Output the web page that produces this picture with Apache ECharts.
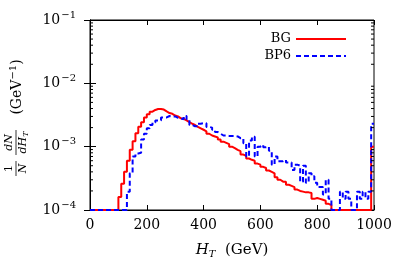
<!DOCTYPE html>
<html><head><meta charset="utf-8">
<script src="https://cdn.jsdelivr.net/npm/echarts@6/dist/echarts.min.js"></script>
<style>html,body{margin:0;padding:0;background:#fff}#c{width:407px;height:264px}</style>
</head><body><div id="c"></div>
<script>
// Bin lower edges (GeV), 10 GeV bins
const binStarts = [0,10,20,30,40,50,60,70,80,90,100,110,120,130,140,150,160,170,180,190,
200,210,220,230,240,250,260,270,280,290,300,310,320,330,340,350,360,370,380,390,
400,410,420,430,440,450,460,470,480,490,500,510,520,530,540,550,560,570,580,590,
600,610,620,630,640,650,660,670,680,690,700,710,720,730,740,750,760,770,780,790,
800,810,820,830,840,850,860,870,880,890,900,910,920,930,940,950,960,970,980,990];
const binEnd = 1000;
// BG (red) 1/N dN/dH_T per bin
const bgValues = [1e-4,1e-4,1e-4,1e-4,1e-4,1e-4,1e-4,1e-4,1e-4,1e-4,
1.6e-4,2.6e-4,4.0e-4,6.0e-4,8.9e-4,1.22e-3,1.63e-3,2.07e-3,2.43e-3,2.88e-3,
3.25e-3,3.57e-3,3.8e-3,3.94e-3,3.94e-3,3.85e-3,3.6e-3,3.4e-3,3.3e-3,3.1e-3,
3.0e-3,2.8e-3,2.75e-3,2.6e-3,2.45e-3,2.3e-3,2.2e-3,2.05e-3,1.95e-3,1.85e-3,
1.75e-3,1.6e-3,1.5e-3,1.45e-3,1.4e-3,1.3e-3,1.2e-3,1.15e-3,1.1e-3,1.0e-3,
9.5e-4,8.9e-4,8.5e-4,7.5e-4,7.2e-4,6.5e-4,6.2e-4,6.0e-4,5.4e-4,5.2e-4,
4.8e-4,4.6e-4,4.2e-4,4.0e-4,3.8e-4,3.3e-4,3.0e-4,2.8e-4,2.8e-4,2.5e-4,
2.4e-4,2.3e-4,2.1e-4,2.0e-4,1.95e-4,1.9e-4,1.9e-4,1.85e-4,1.5e-4,1.55e-4,
1.5e-4,1.45e-4,1.4e-4,1.25e-4,1.2e-4,1e-4,1e-4,1e-4,1e-4,1e-4,
1e-4,1e-4,1e-4,1e-4,1e-4,1e-4,1e-4,1e-4,1e-4,1.0e-3];
// BP6 (blue) per bin
const bp6Values = [1e-4,1e-4,1e-4,1e-4,1e-4,1e-4,1e-4,1e-4,1e-4,1e-4,
1e-4,1e-4,1e-4,1.95e-4,3.8e-4,7e-4,7.8e-4,8e-4,1.3e-3,1.6e-3,
1.95e-3,2.2e-3,2.4e-3,2.6e-3,2.6e-3,2.9e-3,2.9e-3,3.05e-3,3.0e-3,3.0e-3,
2.85e-3,2.8e-3,2.7e-3,3.05e-3,2.7e-3,2.2e-3,2.1e-3,2.1e-3,2.3e-3,2.35e-3,
2.35e-3,2.05e-3,2.0e-3,1.85e-3,1.7e-3,1.6e-3,1.5e-3,1.5e-3,1.48e-3,1.48e-3,
1.48e-3,1.45e-3,1.36e-3,1.36e-3,1.13e-3,7e-4,1.25e-3,1.44e-3,7e-4,1.0e-3,
1.07e-3,9.8e-4,1.0e-3,8.6e-4,5.2e-4,7e-4,5.9e-4,5.9e-4,6.2e-4,5.6e-4,
5.6e-4,4.3e-4,5.2e-4,5.0e-4,2.8e-4,5e-4,2.7e-4,3.8e-4,3.4e-4,2.7e-4,
2.3e-4,2.3e-4,1.75e-4,3e-4,1.5e-4,1e-4,1e-4,1e-4,1.95e-4,1.5e-4,
1.95e-4,1.5e-4,1e-4,1e-4,1.95e-4,1.5e-4,1.95e-4,1.5e-4,1.95e-4,2.3e-3];
const xTicks = [0,200,400,600,800,1000];
const yMin = 1e-4, yMax = 1e-1;
const minorTickValues = [2e-4,3e-4,4e-4,5e-4,6e-4,7e-4,8e-4,9e-4,
2e-3,3e-3,4e-3,5e-3,6e-3,7e-3,8e-3,9e-3,
2e-2,3e-2,4e-2,5e-2,6e-2,7e-2,8e-2,9e-2];

function histPoints(vals){
  const pts = binStarts.map((b,i)=>[b, vals[i]]);
  pts.push([binEnd, vals[vals.length-1]]);
  return pts;
}
const FONT = 'DejaVu Serif';
const chart = echarts.init(document.getElementById('c'), null, {renderer:'canvas'});
const supLabel = v => {
  const e = Math.round(Math.log10(v));
  return '{b|10}{s|\u2212' + Math.abs(e) + '}';
};
const legendCommon = {orient:'vertical',align:'right',right:55,itemWidth:50,itemHeight:14,itemGap:3,
  itemStyle:{color:'rgba(0,0,0,0)',borderWidth:0,opacity:0},
  textStyle:{fontFamily:FONT,fontSize:13,color:'#000'}};
chart.setOption({
  animation:false,
  backgroundColor:'#fff',
  grid:{left:90,right:33,top:20,bottom:54,show:true,borderColor:'#000',borderWidth:1,backgroundColor:'transparent'},
  legend:[
    Object.assign({data:['BG'],top:27.5}, legendCommon),
    Object.assign({data:['BP6'],top:44.5}, legendCommon)
  ],
  xAxis:[
    {type:'value',position:'bottom',min:0,max:1000,interval:200,
     axisLine:{show:true,lineStyle:{color:'#000',width:1}},
     axisTick:{show:true,inside:true,length:5,lineStyle:{color:'#000'}},
     splitLine:{show:false},
     axisLabel:{fontFamily:FONT,fontSize:14,color:'#000',margin:8,
       formatter:v=> xTicks.indexOf(v)>=0 ? String(v) : ''},
     name:'{i|H}{sub|T}{r|  (GeV)}',nameLocation:'middle',nameGap:31,
     nameTextStyle:{rich:{
       i:{fontFamily:FONT,fontStyle:'italic',fontSize:15,color:'#000'},
       sub:{fontFamily:FONT,fontStyle:'italic',fontSize:10,color:'#000',verticalAlign:'bottom',padding:[8,0,0,0]},
       r:{fontFamily:FONT,fontSize:15,color:'#000'}}}},
    {type:'value',position:'top',min:0,max:1000,interval:200,
     axisLine:{show:true,lineStyle:{color:'#000'}},
     axisTick:{show:true,inside:true,length:5,lineStyle:{color:'#000'}},
     axisLabel:{show:false},splitLine:{show:false}}
  ],
  yAxis:[
    {type:'log',logBase:10,min:yMin,max:yMax,position:'left',
     axisLine:{show:true,lineStyle:{color:'#000'}},
     axisTick:{show:true,inside:true,length:6,lineStyle:{color:'#000'}},
     splitLine:{show:false},
     axisLabel:{margin:14,formatter:supLabel,rich:{
       b:{fontFamily:FONT,fontSize:14,color:'#000'},
       s:{fontFamily:FONT,fontSize:10,color:'#000',verticalAlign:'top',padding:[0,0,10,1]}}}},
    {type:'log',logBase:10,min:yMin,max:yMax,position:'right',
     axisLine:{show:true,lineStyle:{color:'#000'}},
     axisTick:{show:true,inside:true,length:6,lineStyle:{color:'#000'}},
     axisLabel:{show:false},splitLine:{show:false}}
  ],
  series:[
    {name:'BG',type:'line',step:'end',symbol:'none',data:histPoints(bgValues),
     lineStyle:{color:'#ff0000',width:2},itemStyle:{color:'#ff0000'},z:3},
    {name:'BP6',type:'line',step:'end',symbol:'none',data:histPoints(bp6Values),
     lineStyle:{color:'#0000ff',width:2,type:[5,3]},itemStyle:{color:'#0000ff'},z:4},
    {name:'minor',type:'custom',silent:true,clip:false,z:5,
     data:minorTickValues.map(v=>[0,v]),
     renderItem:function(params,api){
       const cs = params.coordSys;
       const y = api.coord([0, api.value(1)])[1];
       const st = {stroke:'#000',lineWidth:1};
       return {type:'group',children:[
         {type:'line',shape:{x1:cs.x,y1:y,x2:cs.x+3,y2:y},style:st},
         {type:'line',shape:{x1:cs.x+cs.width-3,y1:y,x2:cs.x+cs.width,y2:y},style:st}
       ]};
     }}
  ],
  graphic:[
    {type:'text',x:9,y:168.5,rotation:Math.PI/2,style:{text:'1',fontFamily:FONT,fontSize:11,fill:'#000',align:'center',verticalAlign:'middle'}},
    {type:'line',shape:{x1:16,y1:161,x2:16,y2:176},style:{stroke:'#000',lineWidth:0.8}},
    {type:'text',x:23,y:168.5,rotation:Math.PI/2,style:{text:'N',fontFamily:FONT,fontStyle:'italic',fontSize:11,fill:'#000',align:'center',verticalAlign:'middle'}},
    {type:'text',x:9,y:142.5,rotation:Math.PI/2,style:{text:'dN',fontFamily:FONT,fontStyle:'italic',fontSize:11,fill:'#000',align:'center',verticalAlign:'middle'}},
    {type:'line',shape:{x1:16,y1:130,x2:16,y2:155},style:{stroke:'#000',lineWidth:0.8}},
    {type:'text',x:23,y:142.5,rotation:Math.PI/2,style:{text:'{i|dH}{s|T}',align:'center',verticalAlign:'middle',
      rich:{i:{fontFamily:FONT,fontStyle:'italic',fontSize:11,fill:'#000'},s:{fontFamily:FONT,fontStyle:'italic',fontSize:8,fill:'#000',verticalAlign:'bottom',padding:[5,0,0,0]}}}},
    {type:'text',x:17.5,y:87,rotation:Math.PI/2,style:{text:'{r|(GeV}{s|\u22121}{r|)}',align:'center',verticalAlign:'middle',
      rich:{r:{fontFamily:FONT,fontSize:14,fill:'#000'},s:{fontFamily:FONT,fontSize:10,fill:'#000',verticalAlign:'top',padding:[0,0,8,0]}}}}
  ]
});
</script></body></html>
